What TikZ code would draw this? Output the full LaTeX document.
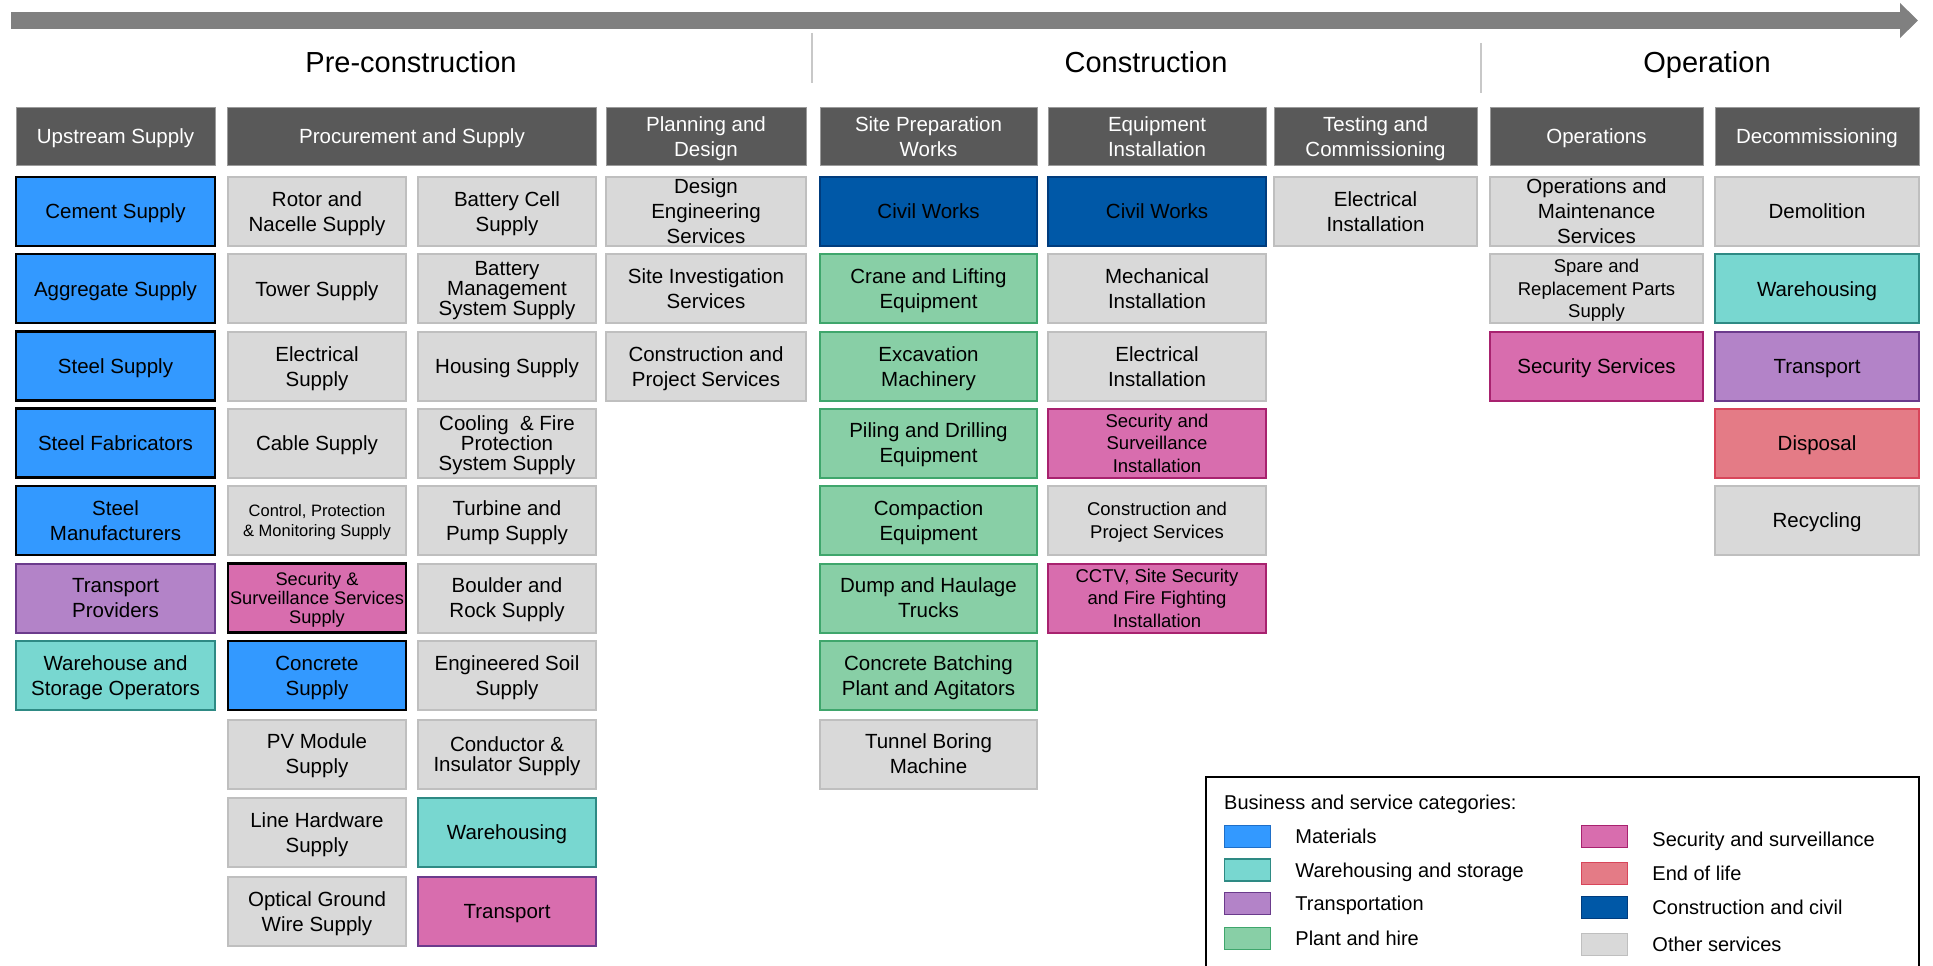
\documentclass[tikz,border=0pt]{standalone}
\usepackage{fontspec}
\setmainfont{Liberation Sans}
\usetikzlibrary{positioning}
\usetikzlibrary{arrows.meta}

\definecolor{headgray}{HTML}{595959}
\definecolor{bargray}{HTML}{808080}
\definecolor{sepgray}{HTML}{C8C8C8}
\definecolor{matfill}{HTML}{3399FF}
\definecolor{matline}{HTML}{1F6FC8}
\definecolor{warefill}{HTML}{78D7D0}
\definecolor{wareline}{HTML}{2E8A84}
\definecolor{transfill}{HTML}{B383C8}
\definecolor{transline}{HTML}{6B3B8C}
\definecolor{plantfill}{HTML}{88CFA6}
\definecolor{plantline}{HTML}{3FA66C}
\definecolor{secfill}{HTML}{D86DAE}
\definecolor{secline}{HTML}{A8226F}
\definecolor{eolfill}{HTML}{E47B86}
\definecolor{eolline}{HTML}{D8465A}
\definecolor{civfill}{HTML}{0058A7}
\definecolor{civline}{HTML}{003C7D}
\definecolor{othfill}{HTML}{D9D9D9}
\definecolor{othline}{HTML}{BFBFBF}

\begin{document}
\begin{tikzpicture}[x=1pt, y=-1pt]
          % one pt per pixel, y counted downwards from the top edge
          \tikzstyle{cell} = [rectangle, line width=2pt, inner xsep=1pt, inner ysep=0pt, align=center, minimum height=69pt,
                              text depth=0pt, font=\fontsize{20.5}{25}\selectfont]
          \tikzstyle{tight} = [font=\fontsize{20.5}{20}\selectfont]
          \tikzstyle{small} = [font=\fontsize{18.5}{22.5}\selectfont]
          \tikzstyle{tiny} = [font=\fontsize{16.5}{20}\selectfont]
          \tikzstyle{hdr} = [cell, fill=headgray, draw=headgray!60!white, line width=1pt, text=white, minimum height=58pt]
          \tikzstyle{phase} = [text height=21pt, text depth=0pt, font=\fontsize{29}{34}\selectfont]
          \tikzstyle{timebar} = [bargray, line width=17pt, -{Triangle[width=34pt,length=18pt]}]
          \tikzstyle{sepline} = [sepgray, line width=2pt]
          % column widths
          \tikzstyle{wup} = [minimum width=199pt]
          \tikzstyle{wpr} = [minimum width=178pt]
          \tikzstyle{wpl} = [minimum width=200pt]
          \tikzstyle{wsp} = [minimum width=217pt]
          \tikzstyle{weq} = [minimum width=218pt]
          \tikzstyle{wts} = [minimum width=203pt]
          \tikzstyle{wop} = [minimum width=213pt]
          \tikzstyle{wdc} = [minimum width=204pt]
          % categories
          \tikzstyle{mat} = [cell, fill=matfill, draw=black, line width=2.5pt]
          \tikzstyle{ware} = [cell, fill=warefill, draw=wareline]
          \tikzstyle{trans} = [cell, fill=transfill, draw=transline]
          \tikzstyle{plant} = [cell, fill=plantfill, draw=plantline]
          \tikzstyle{sec} = [cell, fill=secfill, draw=secline]
          \tikzstyle{eol} = [cell, fill=eolfill, draw=eolline]
          \tikzstyle{civ} = [cell, fill=civfill, draw=civline]
          \tikzstyle{oth} = [cell, fill=othfill, draw=othline]
          % legend
          \tikzstyle{swatch} = [rectangle, line width=1.5pt, minimum width=46pt, minimum height=22pt, inner sep=0pt]
          \tikzstyle{legtext} = [inner sep=0pt, text height=14pt, text depth=0pt, font=\fontsize{20}{24}\selectfont]

          \useasboundingbox (0,0) rectangle (1933,966);

          % time line and phases
          \coordinate (t0) at (11,20.5);
          \coordinate (t1) at (1918,20.5);
          \draw[timebar] (t0) -- (t1);
          \node[phase] (pre) at (411,62) {Pre-construction};
          \node[phase] (con) at (1146,62) {Construction};
          \node[phase] (ope) at (1707,62) {Operation};
          \draw[sepline] (811.5,33) -- (811.5,83);
          \draw[sepline] (1481,43) -- (1481,93);

          % stage headers
          \node[hdr, wup] (hup) at (115.5,136.4) {Upstream Supply};
          \node[hdr, minimum width=369pt] (hpr) at (412,136.4) {Procurement and Supply};
          \node[hdr, wpl] (hpl) at (706,136.4) {Planning and\\Design};
          \node[hdr, wsp] (hsp) at (928.5,136.4) {Site Preparation\\Works};
          \node[hdr, weq] (heq) at (1157,136.4) {Equipment\\Installation};
          \node[hdr, wts] (hts) at (1375.5,136.4) {Testing and\\Commissioning};
          \node[hdr, wop] (hop) at (1596.5,136.4) {Operations};
          \node[hdr, wdc] (hdc) at (1817,136.4) {Decommissioning};

          % upstream supply
          \node[mat, wup] (cem) at (115.5,211.5) {Cement Supply};
          \node[mat, wup] (agg) at (115.5,288.7) {Aggregate Supply};
          \node[mat, wup] (stl) at (115.5,366.2) {Steel Supply};
          \node[mat, wup] (fab) at (115.5,443) {Steel Fabricators};
          \node[mat, wup] (mfr) at (115.5,520.5) {Steel\\Manufacturers};
          \node[trans, wup] (tpr) at (115.5,598) {Transport\\Providers};
          \node[ware, wup] (wso) at (115.5,675.5) {Warehouse and\\Storage Operators};

          % procurement and supply
          \node[oth, wpr] (rot) at (317,211.5) {Rotor and\\Nacelle Supply};
          \node[oth, wpr] (tow) at (317,288.7) {Tower Supply};
          \node[oth, wpr] (ele) at (317,366.2) {Electrical\\Supply};
          \node[oth, wpr] (cab) at (317,443) {Cable Supply};
          \node[oth, wpr, tiny] (cpm) at (317,520.5) {Control, Protection\\\& Monitoring Supply};
          \node[sec, wpr, draw=black, line width=2.5pt, font=\fontsize{18.2}{19.3}\selectfont] (ssv) at (317,598) {Security \&\\Surveillance Services\\Supply};
          \node[mat, wpr] (cnc) at (317,675.5) {Concrete\\Supply};
          \node[oth, wpr] (pvm) at (317,754) {PV Module\\Supply};
          \node[oth, wpr] (lhw) at (317,832.5) {Line Hardware\\Supply};
          \node[oth, wpr] (opg) at (317,911.5) {Optical Ground\\Wire Supply};

          \node[oth, wpr] (bcs) at (507,211.5) {Battery Cell\\Supply};
          \node[oth, wpr, tight] (bms) at (507,288.7) {Battery\\Management\\System Supply};
          \node[oth, wpr] (hsg) at (507,366.2) {Housing Supply};
          \node[oth, wpr, tight] (cfp) at (507,443) {Cooling \ \& Fire\\Protection\\System Supply};
          \node[oth, wpr] (tps) at (507,520.5) {Turbine and\\Pump Supply};
          \node[oth, wpr] (brs) at (507,598) {Boulder and\\Rock Supply};
          \node[oth, wpr] (ess) at (507,675.5) {Engineered Soil\\Supply};
          \node[oth, wpr, tight] (cis) at (507,754) {Conductor \&\\Insulator Supply};
          \node[ware, wpr] (whs) at (507,832.5) {Warehousing};
          \node[sec, wpr, draw=transline] (trp) at (507,911.5) {Transport};

          % planning and design
          \node[oth, wpl] (des) at (706,211.5) {Design\\Engineering\\Services};
          \node[oth, wpl] (sis) at (706,288.7) {Site Investigation\\Services};
          \node[oth, wpl] (cps) at (706,366.2) {Construction and\\Project Services};

          % site preparation works
          \node[civ, wsp] (cw1) at (928.5,211.5) {Civil Works};
          \node[plant, wsp] (crn) at (928.5,288.7) {Crane and Lifting\\Equipment};
          \node[plant, wsp] (exc) at (928.5,366.2) {Excavation\\Machinery};
          \node[plant, wsp] (pil) at (928.5,443) {Piling and Drilling\\Equipment};
          \node[plant, wsp] (cmp) at (928.5,520.5) {Compaction\\Equipment};
          \node[plant, wsp] (dmp) at (928.5,598) {Dump and Haulage\\Trucks};
          \node[plant, wsp] (cbp) at (928.5,675.5) {Concrete Batching\\Plant and Agitators};
          \node[oth, wsp] (tbm) at (928.5,754) {Tunnel Boring\\Machine};

          % equipment installation
          \node[civ, weq] (cw2) at (1157,211.5) {Civil Works};
          \node[oth, weq] (mec) at (1157,288.7) {Mechanical\\Installation};
          \node[oth, weq] (eli) at (1157,366.2) {Electrical\\Installation};
          \node[sec, weq, small] (ssi) at (1157,443) {Security and\\Surveillance\\Installation};
          \node[oth, weq, small] (cp2) at (1157,520.5) {Construction and\\Project Services};
          \node[sec, weq, small] (cct) at (1157,598) {CCTV, Site Security\\and Fire Fighting\\Installation};

          % testing and commissioning
          \node[oth, wts] (el2) at (1375.5,211.5) {Electrical\\Installation};

          % operations
          \node[oth, wop] (oms) at (1596.5,211.5) {Operations and\\Maintenance\\Services};
          \node[oth, wop, small] (spr) at (1596.5,288.7) {Spare and\\Replacement Parts\\Supply};
          \node[sec, wop] (scs) at (1596.5,366.2) {Security Services};

          % decommissioning
          \node[oth, wdc] (dem) at (1817,211.5) {Demolition};
          \node[ware, wdc] (wh2) at (1817,288.7) {Warehousing};
          \node[trans, wdc] (tr2) at (1817,366.2) {Transport};
          \node[eol, wdc] (dis) at (1817,443) {Disposal};
          \node[oth, wdc] (rec) at (1817,520.5) {Recycling};

          % legend
          \draw[line width=1.5pt] (1206,967) -- (1206,777) -- (1919,777) -- (1919,967);
          \node[legtext, anchor=west] (lgh) at (1224,802) {Business and service categories:};
          \node[swatch, fill=matfill, draw=matline] (kmat) at (1247.5,836.5) {};
          \node[swatch, fill=warefill, draw=wareline] (kware) at (1247.5,870) {};
          \node[swatch, fill=transfill, draw=transline] (ktrans) at (1247.5,903.5) {};
          \node[swatch, fill=plantfill, draw=plantline] (kplant) at (1247.5,938.5) {};
          \node[swatch, fill=secfill, draw=secline] (ksec) at (1604.5,836.5) {};
          \node[swatch, fill=eolfill, draw=eolline] (keol) at (1604.5,873.5) {};
          \node[swatch, fill=civfill, draw=civline] (kciv) at (1604.5,907.5) {};
          \node[swatch, fill=othfill, draw=othline] (koth) at (1604.5,944.5) {};
          \node[legtext, right=24pt of kmat] (lmat) {Materials};
          \node[legtext, right=24pt of kware] (lware) {Warehousing and storage};
          \node[legtext, right=24pt of ktrans] (ltrans) {Transportation};
          \node[legtext, right=24pt of kplant] (lplant) {Plant and hire};
          \node[legtext, right=24pt of ksec, yshift=-3pt] (lsec) {Security and surveillance};
          \node[legtext, right=24pt of keol] (leol) {End of life};
          \node[legtext, right=24pt of kciv] (lciv) {Construction and civil};
          \node[legtext, right=24pt of koth] (loth) {Other services};
        \end{tikzpicture}
\end{document}
